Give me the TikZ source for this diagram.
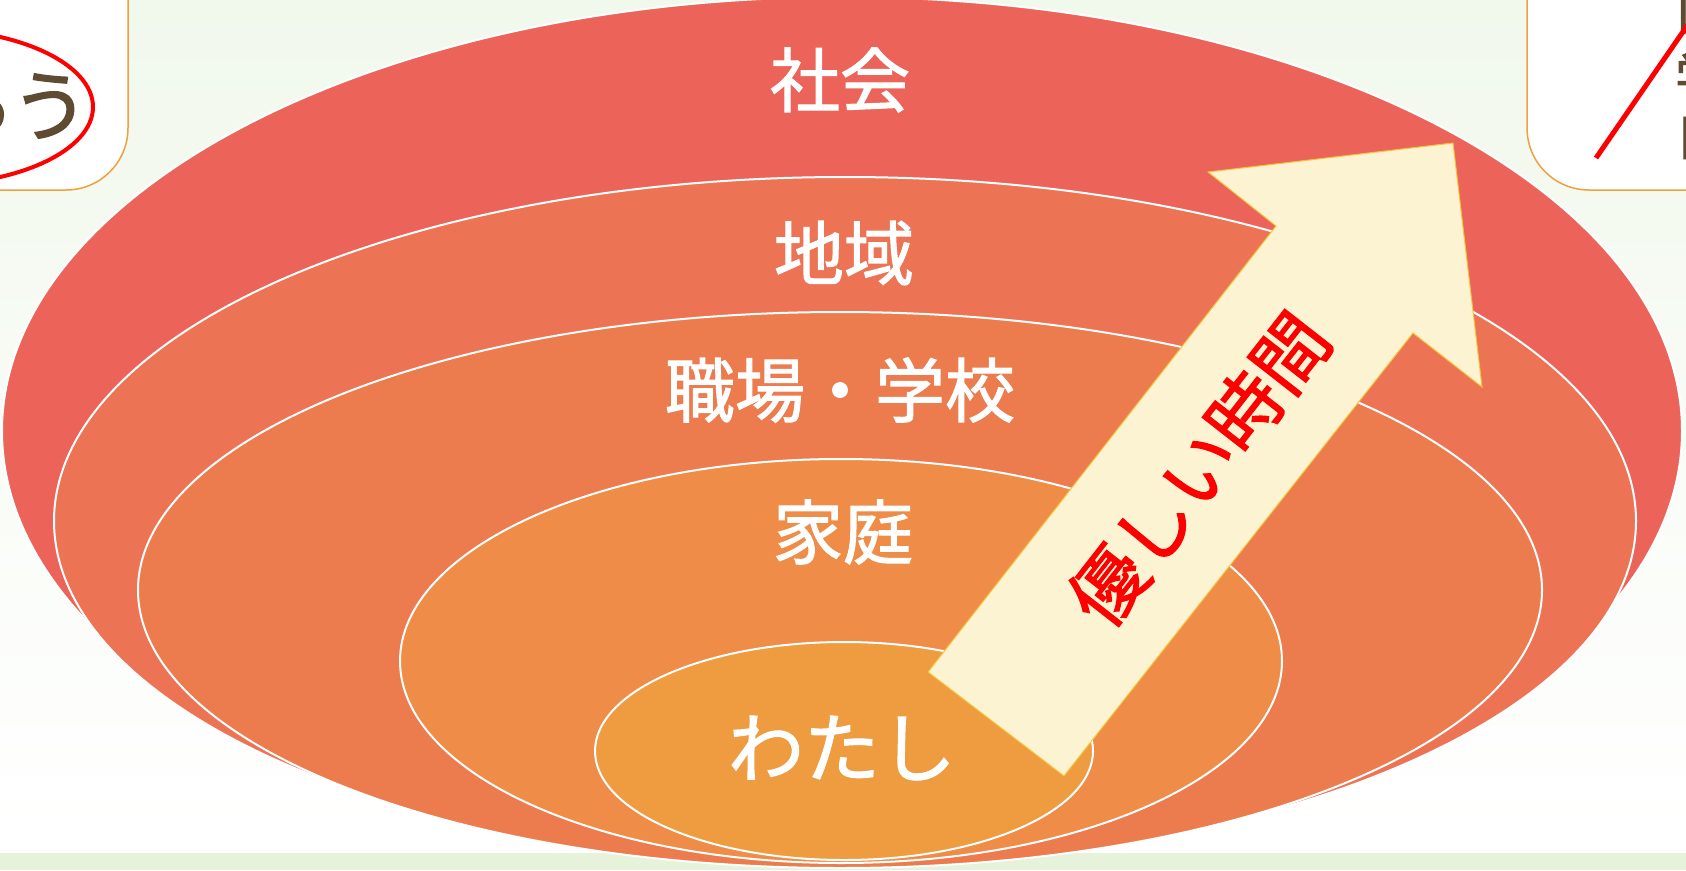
\documentclass[tikz,border=0pt]{standalone}
\usepackage{fontspec}
\newfontfamily\jp[FakeBold=1.6]{Noto Sans CJK JP}
\definecolor{bgtop}{HTML}{F1F8EC}
\definecolor{bgband}{HTML}{E6F2DA}
\definecolor{cSociety}{HTML}{EC635A}
\definecolor{cRegion}{HTML}{ED7355}
\definecolor{cWork}{HTML}{EC7B4E}
\definecolor{cHome}{HTML}{EE8C48}
\definecolor{cMe}{HTML}{EF9B40}
\definecolor{arrowfill}{HTML}{FCF3D2}
\definecolor{arrowline}{HTML}{F2C53A}
\definecolor{boxline}{HTML}{F0A040}
\definecolor{brown}{HTML}{5F4B32}
\tikzset{
  ring/.style={draw=white, line width=2pt},
  lbl/.style={text=white, font=\jp\fontsize{70}{80}\selectfont, inner sep=0pt},
  sidebox/.style={draw=boxline, line width=1.5pt, fill=white, rounded corners=62pt},
  sidetext/.style={text=brown, inner sep=0pt},
}
\begin{document}
\begin{tikzpicture}[x=1pt,y=-1pt]
\useasboundingbox (0,0) rectangle (1686,870);
\clip (0,0) rectangle (1686,870);
% background
\shade[top color=bgtop, bottom color=white] (0,0) rectangle (1686,835);
\fill[white] (0,835) rectangle (1686,853);
\fill[bgband] (0,853) rectangle (1686,870);
% side boxes
\draw[sidebox] (-100,-100) rectangle (128,190);
\draw[red, line width=4pt] (-73,107) ellipse [x radius=166pt, y radius=78pt];
\node[sidetext, font=\jp\fontsize{78}{86}\selectfont] (lt1) at (50,106) {う};
\node[sidetext, font=\jp\fontsize{78}{86}\selectfont] (lt0) at (-24,106) {ろ};
\draw[sidebox] (1527,-100) rectangle (1800,190);
\node[sidetext, font=\jp\fontsize{50}{56}\selectfont] (rt1) at (1700,14) {口};
\node[sidetext, font=\jp\fontsize{50}{56}\selectfont] (rt2) at (1700,76) {学};
\node[sidetext, font=\jp\fontsize{50}{56}\selectfont] (rt3) at (1700,138) {日};
\coordinate (rl1) at (1596,158);
\coordinate (rl2) at (1700,7);
\draw[red, line width=5pt] (rl1) -- (rl2);
% nested ellipses
\draw[ring, fill=cSociety] (842,431) ellipse [x radius=840pt, y radius=434pt];
\draw[ring, fill=cRegion] (845,521) ellipse [x radius=791pt, y radius=344pt];
\draw[ring, fill=cWork] (840,590) ellipse [x radius=702pt, y radius=278pt];
\draw[ring, fill=cHome] (841,661) ellipse [x radius=441pt, y radius=202pt];
\draw[ring, fill=cMe] (844,751) ellipse [x radius=249pt, y radius=109pt];
% labels
\node[lbl] (society) at (840,80) {社会};
\node[lbl] (region) at (844,253) {地域};
\node[lbl] (work) at (840,390) {職場・学校};
\node[lbl] (home) at (843,532) {家庭};
\node[lbl, font=\jp\fontsize{76}{84}\selectfont] (me) at (842,748) {わたし};
% arrow
\coordinate (tl) at (928,672);
\coordinate (sl) at (1276,226);
\coordinate (bl) at (1208,172);
\coordinate (tip) at (1453,143);
\coordinate (br) at (1482,387);
\coordinate (sr) at (1413,333);
\coordinate (tr) at (1064,776);
\draw[fill=arrowfill, draw=arrowline, line width=1pt, line join=miter]
  (tl) -- (sl) -- (bl) -- (tip) -- (br) -- (sr) -- (tr) -- cycle;
\node[text=red, font=\jp\fontsize{74}{80}\selectfont, inner sep=0pt, rotate=52] (gentle) at (1199,469) {優しい時間};
\end{tikzpicture}
\end{document}
